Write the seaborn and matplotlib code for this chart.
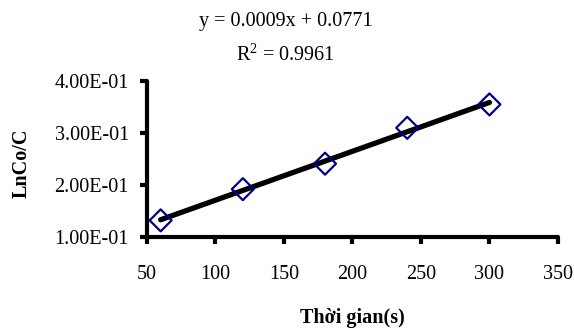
import numpy as np
import pandas as pd
import seaborn as sns
import matplotlib.pyplot as plt
from matplotlib.ticker import FuncFormatter

# thoi gian (s) va LnCo/C doc tu hinh
thoi_gian = [60, 120, 180, 240, 300]
ln_co_c = [0.132, 0.192, 0.241, 0.310, 0.355]
x_ticks = [50, 100, 150, 200, 250, 300, 350]
y_ticks = [0.1, 0.2, 0.3, 0.4]
eq_text = "y = 0.0009x + 0.0771"
r2_text = "R$^2$ = 0.9961"

df = pd.DataFrame({"t": thoi_gian, "ln": ln_co_c})

sns.set_style("white")
plt.rcParams["font.family"] = ["Liberation Serif", "DejaVu Serif"]
plt.rcParams["mathtext.fontset"] = "custom"
plt.rcParams["mathtext.rm"] = "Liberation Serif"
plt.rcParams["text.color"] = "black"
plt.rcParams["axes.labelcolor"] = "black"

fs = 14.5

fig = plt.figure(figsize=(5.74, 3.28), dpi=100)
ax = fig.add_axes([0.256, 0.2774, 0.716, 0.4756])

sns.regplot(data=df, x="t", y="ln", ax=ax, scatter=False, ci=None,
            color="black", truncate=True,
            line_kws={"lw": 3.8, "zorder": 2, "solid_capstyle": "round"})
sns.scatterplot(data=df, x="t", y="ln", ax=ax, marker="D", s=125,
                facecolor="none", edgecolor="#000080", linewidth=1.6, zorder=3)

ax.set_xlim(50, 350)
ax.set_ylim(0.1, 0.4)
ax.set_xticks(x_ticks)
ax.set_yticks(y_ticks)
ax.yaxis.set_major_formatter(FuncFormatter(lambda v, p: f"{v:.2E}"))

for s in ["top", "right"]:
    ax.spines[s].set_visible(False)
for s in ["left", "bottom"]:
    ax.spines[s].set_linewidth(3)
    ax.spines[s].set_color("black")
    ax.spines[s].set_capstyle("round")
ax.tick_params(axis="both", bottom=True, left=True, length=5, width=3,
               color="black", labelcolor="black", labelsize=fs,
               direction="out")
ax.tick_params(axis="x", pad=15)
ax.tick_params(axis="y", pad=8)

ax.set_xlabel("Thời gian(s)", fontsize=fs, fontweight="bold")
ax.set_ylabel("LnCo/C", fontsize=fs, fontweight="bold")
ax.xaxis.set_label_coords(0.5, -0.455)
ax.yaxis.set_label_coords(-0.28, 0.474)

fig.text(0.498, 0.933, eq_text, ha="center", va="center", fontsize=fs)
fig.text(0.498, 0.832, r2_text, ha="center", va="center", fontsize=fs)

fig.savefig("out.png", dpi=100)
